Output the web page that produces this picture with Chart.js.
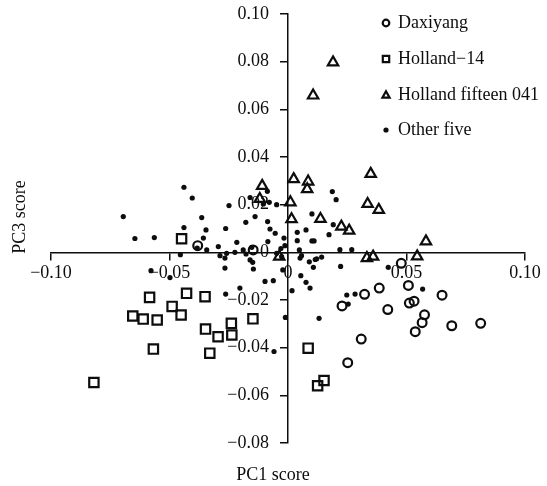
<!DOCTYPE html>
<html>
<head>
<meta charset="utf-8">
<script src="https://cdn.jsdelivr.net/npm/chart.js@4.4.1/dist/chart.umd.min.js"></script>
<style>
  html, body { margin: 0; padding: 0; background: #fff; }
  #wrap { width: 547px; height: 486px; }
</style>
</head>
<body>
<div id="wrap"><canvas id="chart" width="547" height="486"></canvas></div>
<script>
// PC1 / PC3 scores
const seriesNames = ['Daxiyang', 'Holland\u221214', 'Holland fifteen 041', 'Other five'];

const daxiyangX = [-0.0381, -0.0147, 0.0478, 0.0385, 0.0323, 0.0508, 0.0228, 0.0421, 0.0512, 0.0532,
  0.0576, 0.0566, 0.0537, 0.0650, 0.0691, 0.0813, 0.0309, 0.0252];
const daxiyangY = [0.0028, 0.0010, -0.0046, -0.0150, -0.0176, -0.0139, -0.0225, -0.0240, -0.0213, -0.0205,
  -0.0262, -0.0295, -0.0333, -0.0180, -0.0308, -0.0298, -0.0364, -0.0463];

const hollandX = [-0.0449, -0.0584, -0.0428, -0.0350, -0.0489, -0.0655, -0.0611, -0.0552, -0.0451, -0.0348,
  -0.0295, -0.0239, -0.0237, -0.0148, -0.0568, -0.0330, -0.0819, 0.0085, 0.0125, 0.0152];
const hollandY = [0.0057, -0.0189, -0.0172, -0.0186, -0.0227, -0.0267, -0.0280, -0.0284, -0.0263, -0.0322,
  -0.0354, -0.0298, -0.0347, -0.0279, -0.0406, -0.0423, -0.0546, -0.0402, -0.0560, -0.0538];

const fifteenX = [0.0190, 0.0106, 0.0024, 0.0085, 0.0081, -0.0109, -0.0119, 0.0010, 0.0015, 0.0137,
  0.0225, 0.0258, 0.0349, 0.0336, 0.0383, 0.0582, 0.0545, 0.0333, 0.0359, -0.0037];
const fifteenY = [0.0797, 0.0658, 0.0307, 0.0297, 0.0265, 0.0279, 0.0224, 0.0210, 0.0139, 0.0140,
  0.0108, 0.0091, 0.0329, 0.0203, 0.0178, 0.0046, -0.0017, -0.0024, -0.0018, -0.0018];

const otherX = [-0.0695, -0.0646, -0.0564, -0.0439, -0.0404, -0.0364, -0.0439, -0.0346, -0.0357, -0.0383,
  -0.0343, -0.0294, -0.0454, -0.0578, -0.0498, -0.0249, -0.0160, -0.0087, -0.0079, -0.0048,
  -0.0104, -0.0139, -0.0178, -0.0086, -0.0263, -0.0076, -0.0054, -0.0017, 0.0039, 0.0039,
  0.0048, 0.0051, -0.0216, -0.0189, -0.0153, -0.0177, -0.0287, -0.0224, -0.0259, -0.0266,
  -0.0160, -0.0146, -0.0048, -0.0027, -0.0022, -0.0266, -0.0149, -0.0097, -0.0062, -0.0203,
  -0.0263, -0.0011, -0.0059, 0.0017, -0.0085, -0.0030, -0.0013, 0.0187, 0.0203, 0.0101,
  0.0191, 0.0076, 0.0173, 0.0101, 0.0110, 0.0219, 0.0269, 0.0057, 0.0115, 0.0090,
  0.0121, 0.0142, 0.0107, 0.0222, 0.0423, 0.0054, 0.0076, 0.0093, 0.0248, 0.0283,
  0.0254, 0.0131, 0.0568];
const otherY = [0.0150, 0.0058, 0.0062, 0.0273, 0.0228, 0.0146, 0.0104, 0.0094, 0.0060, 0.0018,
  0.0010, 0.0024, -0.0010, -0.0077, -0.0106, 0.0196, 0.0230, 0.0256, 0.0210, 0.0200,
  0.0203, 0.0150, 0.0126, 0.0129, 0.0100, 0.0098, 0.0080, 0.0060, 0.0084, 0.0049,
  0.0010, -0.0024, 0.0042, 0.0010, 0.0021, -0.0007, -0.0014, 0.0000, -0.0004, -0.0024,
  -0.0032, -0.0070, -0.0004, -0.0018, -0.0074, -0.0066, -0.0042, -0.0122, -0.0119, -0.0150,
  -0.0175, -0.0273, -0.0416, -0.0161, 0.0045, 0.0016, 0.0028, 0.0255, 0.0221, 0.0161,
  0.0116, 0.0094, 0.0074, 0.0048, 0.0048, 0.0011, 0.0011, -0.0014, -0.0030, -0.0040,
  -0.0027, -0.0020, -0.0063, -0.0059, -0.0063, -0.0098, -0.0126, -0.0150, -0.0179, -0.0175,
  -0.0217, -0.0277, -0.0154];

const xTickValues = [-0.10, -0.05, 0, 0.05, 0.10];
const yTickValues = [-0.08, -0.06, -0.04, -0.02, 0, 0.02, 0.04, 0.06, 0.08, 0.10];
const xTitle = 'PC1 score';
const yTitle = 'PC3 score';

const ink = '#0d0d0d';
const serif = '"Liberation Serif", "Times New Roman", serif';

const toPoints = (xs, ys) => xs.map((x, i) => ({x: x, y: ys[i]}));

// tick labels: "0", "0.05", "−0.05" (typographic minus)
const fmt = v => {
  if (Math.abs(v) < 1e-9) return '0';
  return (v < 0 ? '\u2212' : '') + Math.abs(v).toFixed(2);
};

function drawMarker(ctx, kind, x, y) {
  ctx.beginPath();
  if (kind === 'circle') {
    ctx.arc(x, y, 3.3, 0, Math.PI * 2);
    ctx.stroke();
  } else if (kind === 'rect') {
    ctx.rect(x - 3.2, y - 3.2, 6.4, 6.4);
    ctx.stroke();
  } else if (kind === 'triangle') {
    ctx.moveTo(x, y - 3.8);
    ctx.lineTo(x + 3.6, y + 2.6);
    ctx.lineTo(x - 3.6, y + 2.6);
    ctx.closePath();
    ctx.stroke();
  } else {
    ctx.arc(x, y, 2.6, 0, Math.PI * 2);
    ctx.fill();
  }
}

// axis titles + the legend in the top right corner
const overlay = {
  id: 'overlay',
  afterDraw(chart) {
    const ctx = chart.ctx;
    ctx.save();
    ctx.fillStyle = ink;
    ctx.strokeStyle = ink;
    ctx.lineWidth = 2.2;
    ctx.font = '18px ' + serif;
    ctx.textBaseline = 'middle';

    ctx.textAlign = 'center';
    ctx.fillText(xTitle, 273, 475);
    ctx.save();
    ctx.translate(20, 217);
    ctx.rotate(-Math.PI / 2);
    ctx.fillText(yTitle, 0, 0);
    ctx.restore();

    const kinds = ['circle', 'rect', 'triangle', 'dot'];
    const rows = [23, 59, 95, 130];
    ctx.textAlign = 'left';
    seriesNames.forEach((name, i) => {
      drawMarker(ctx, kinds[i], 386, rows[i]);
      ctx.fillText(name, 398, rows[i]);
    });
    ctx.restore();
  }
};

const openMarker = (style, r) => ({
  pointStyle: style,
  pointRadius: r,
  pointBorderWidth: 2.2,
  pointBorderColor: ink,
  pointBackgroundColor: 'rgba(0,0,0,0)',
  showLine: false
});

new Chart(document.getElementById('chart'), {
  type: 'scatter',
  data: {
    datasets: [
      Object.assign({label: seriesNames[3], data: toPoints(otherX, otherY),
        pointStyle: 'circle', pointRadius: 2.6, pointBorderWidth: 0,
        pointBackgroundColor: ink, pointBorderColor: ink}),
      Object.assign({label: seriesNames[0], data: toPoints(daxiyangX, daxiyangY)}, openMarker('circle', 4.4)),
      Object.assign({label: seriesNames[1], data: toPoints(hollandX, hollandY)}, openMarker('rect', 6.6)),
      Object.assign({label: seriesNames[2], data: toPoints(fifteenX, fifteenY)}, openMarker('triangle', 6))
    ]
  },
  options: {
    responsive: false,
    animation: false,
    events: [],
    layout: {padding: {left: 51, right: 22, top: 14, bottom: 43}},
    plugins: {legend: {display: false}, tooltip: {enabled: false}},
    scales: {
      x: {
        type: 'linear',
        position: {y: 0},
        min: -0.10,
        max: 0.10,
        afterBuildTicks: s => { s.ticks = xTickValues.map(v => ({value: v})); },
        ticks: {
          autoSkip: false,
          maxRotation: 0,
          padding: 3,
          color: ink,
          font: {family: serif, size: 18},
          callback: v => fmt(v)
        },
        grid: {drawOnChartArea: false, tickLength: 7, color: ink, lineWidth: 1.5},
        border: {color: ink, width: 1.5}
      },
      y: {
        type: 'linear',
        position: 'center',
        min: -0.08,
        max: 0.10,
        afterBuildTicks: s => { s.ticks = yTickValues.map(v => ({value: v})); },
        // the label padding would otherwise push the plot area down
        afterFit: s => { s.paddingTop = 0; s.paddingBottom = 0; },
        ticks: {
          autoSkip: false,
          padding: 12,
          color: ink,
          font: {family: serif, size: 18},
          callback: v => fmt(v)
        },
        grid: {drawOnChartArea: false, tickLength: 7, color: ink, lineWidth: 1.5},
        border: {color: ink, width: 1.5}
      }
    }
  },
  plugins: [overlay]
});
</script>
</body>
</html>
